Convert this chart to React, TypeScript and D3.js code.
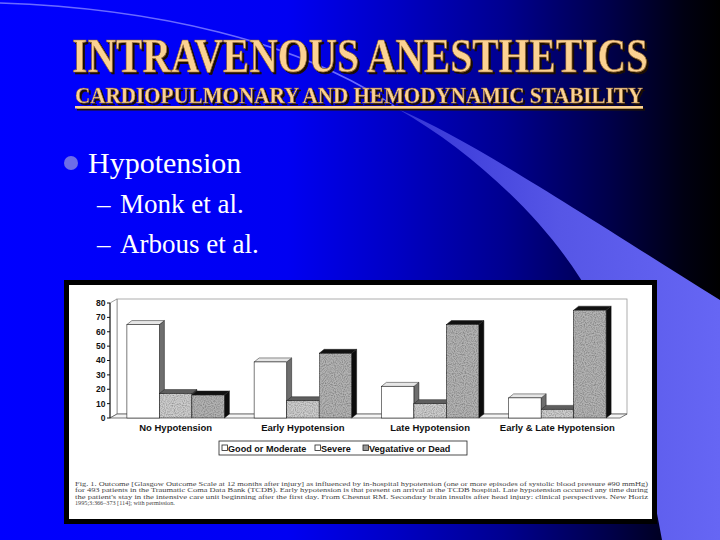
import React from "react";
import * as d3 from "d3";

const categories = ["No Hypotension", "Early Hypotension", "Late Hypotension", "Early & Late Hypotension"];
const seriesNames = ["Good or Moderate", "Severe", "Vegatative or Dead"];
const goodValues = [65, 39, 22, 14];
const severeValues = [17, 12, 10, 6];
const vegValues = [16, 45, 65, 75];
const yTicks = [0, 10, 20, 30, 40, 50, 60, 70, 80];
const captionLines = [
  "Fig. 1. Outcome [Glasgow Outcome Scale at 12 months after injury] as influenced by in-hospital hypotension (one or more episodes of systolic blood pressure #90 mmHg)",
  "for 493 patients in the Traumatic Coma Data Bank (TCDB). Early hypotension is that present on arrival at the TCDB hospital. Late hypotension occurred any time during",
  "the patient's stay in the intensive care unit beginning after the first day. From Chesnut RM. Secondary brain insults after head injury: clinical perspectives. New Horiz",
  "1995;3:366–373 [114]; with permission.",
];

const seriesValues = [goodValues, severeValues, vegValues];
const frontColors = ["#ffffff", "#cdcdcd", "#b3b3b3"];
const topColors = ["#e6e6e6", "#5e5e5e", "#111111"];
const sideColors = ["#6e6e6e", "#3c3c3c", "#0c0c0c"];

export default function App() {
  const x0 = d3.scaleBand<string>().domain(categories).range([112, 621]).paddingInner(0.234).paddingOuter(0.117);
  const x1 = d3.scaleBand<string>().domain(seriesNames).range([0, x0.bandwidth()]).padding(0);
  const y = d3.scaleLinear().domain([0, 80]).range([418, 303]);
  const dx = 5, dy = 4;
  const base = y(0);
  const sans = "'Liberation Sans', Arial, sans-serif";
  const serif = "'Liberation Serif', 'Times New Roman', serif";

  const bars: React.ReactNode[] = [];
  categories.forEach((c, i) => {
    seriesNames.forEach((s, j) => {
      const v = seriesValues[j][i];
      const bx = (x0(c) as number) + (x1(s) as number);
      const w = x1.bandwidth();
      const yt = y(v);
      bars.push(
        <g key={c + s}>
          <polygon
            points={`${bx + w},${yt} ${bx + w + dx},${yt - dy} ${bx + w + dx},${base - dy} ${bx + w},${base}`}
            fill={sideColors[j]} stroke="#111" strokeWidth={0.5} />
          <polygon
            points={`${bx},${yt} ${bx + dx},${yt - dy} ${bx + w + dx},${yt - dy} ${bx + w},${yt}`}
            fill={topColors[j]} stroke="#222" strokeWidth={0.5} />
          <rect x={bx} y={yt} width={w} height={base - yt} fill={frontColors[j]}
            stroke="#222" strokeWidth={0.6} filter={j > 0 ? "url(#grain)" : undefined} />
        </g>
      );
    });
  });

  const legendItems = [
    { x: 222, tx: 228, label: seriesNames[0], fill: "#fff" },
    { x: 315, tx: 321, label: seriesNames[1], fill: "#fff" },
    { x: 363, tx: 369, label: seriesNames[2], fill: "#999" },
  ];

  return (
    <svg width={720} height={540} style={{ position: "fixed", left: 0, top: 0, display: "block" }}>
      <defs>
        <linearGradient id="bg" x1="0" x2="1" y1="0" y2="0">
          <stop offset="0" stopColor="#0000ff" />
          <stop offset="0.4" stopColor="#0000f2" />
          <stop offset="0.55" stopColor="#0000c4" />
          <stop offset="0.7" stopColor="#000090" />
          <stop offset="0.85" stopColor="#000048" />
          <stop offset="0.95" stopColor="#000012" />
          <stop offset="1" stopColor="#000000" />
        </linearGradient>
        <linearGradient id="swoosh" gradientUnits="userSpaceOnUse" x1="398" y1="0" x2="720" y2="0">
          <stop offset="0" stopColor="#3434d6" />
          <stop offset="0.5" stopColor="#5656e6" />
          <stop offset="1" stopColor="#6666f4" />
        </linearGradient>
        <filter id="shadow" x="-10%" y="-50%" width="120%" height="200%">
          <feDropShadow dx={2} dy={2} stdDeviation={0.3} floodColor="#1e0e00" floodOpacity={1} />
        </filter>
        <filter id="grain" x="0" y="0" width="100%" height="100%">
          <feTurbulence type="fractalNoise" baseFrequency="0.9" numOctaves={1} seed={3} result="noise" />
          <feColorMatrix in="noise" type="matrix"
            values="0 0 0 0 0  0 0 0 0 0  0 0 0 0 0  0 0 0 -1.2 0.75" result="dots" />
          <feComposite in="dots" in2="SourceGraphic" operator="in" result="dotsIn" />
          <feMerge>
            <feMergeNode in="SourceGraphic" />
            <feMergeNode in="dotsIn" />
          </feMerge>
        </filter>
      </defs>

      <rect x={0} y={0} width={720} height={540} fill="url(#bg)" />
      <path d="M0,3 C150,8 300,40 398,109" fill="none" stroke="#6a6aff" strokeWidth={1.6} />
      <path d="M398,109 C470,140 560,200 720,300 L720,540 L662,540 C640,420 615,330 580,278 C540,215 470,150 398,109 Z"
        fill="url(#swoosh)" />

      {/* Title */}
      <g fontFamily={serif} fontWeight="bold" filter="url(#shadow)">
        <text transform="translate(72,72) scale(1,1.33)" x={0} y={0} fontSize={36} fill="#fcd292" stroke="#8a6030" strokeWidth={0.5}
          textLength={576} lengthAdjust="spacingAndGlyphs">INTRAVENOUS ANESTHETICS</text>
        <text transform="translate(75,103) scale(1,1.2)" x={0} y={0} fontSize={18.5} fill="#fcd292" stroke="#8a6030" strokeWidth={0.35}
          textLength={568} lengthAdjust="spacingAndGlyphs">CARDIOPULMONARY AND HEMODYNAMIC STABILITY</text>
        <rect x={75} y={106} width={568} height={2.5} fill="#fcd292" />
      </g>

      {/* Bullets */}
      <circle cx={71} cy={163} r={7} fill="#6d6de8" />
      <text x={88} y={173} fontFamily={serif} fontSize={30} fill="#ffffff">Hypotension</text>
      <text x={97} y={213} fontFamily={serif} fontSize={27} fill="#ffffff">–<tspan x={120}>Monk et al.</tspan></text>
      <text x={97} y={253} fontFamily={serif} fontSize={27} fill="#ffffff">–<tspan x={120}>Arbous et al.</tspan></text>

      {/* Figure box */}
      <rect x={64} y={280} width={593} height={244} fill="#000" />
      <rect x={69} y={285} width={583} height={234} fill="#ffffff" />

      {/* 3D frame */}
      <rect x={117} y={y(80) - 4} width={627 - 117} height={base - y(80)} fill="#fff" stroke="#9a9a9a" strokeWidth={0.8} />
      <polygon points={`110,${y(80)} 117,${y(80) - 4} 117,${base - 4} 110,${base}`} fill="#fff" stroke="#888" strokeWidth={0.8} />
      <polygon points={`110,${base} 117,${base - 4} 627,${base - 4} 620,${base}`} fill="#f4f4f4" stroke="#555" strokeWidth={0.8} />

      {bars}

      {/* Y axis */}
      <line x1={110} x2={110} y1={y(80)} y2={base} stroke="#111" strokeWidth={1} />
      {yTicks.map((t) => (
        <g key={t}>
          <line x1={107} x2={110} y1={y(t)} y2={y(t)} stroke="#111" strokeWidth={1} />
          <text x={105.5} y={y(t)} dy="0.35em" textAnchor="end" fontFamily={sans} fontWeight="bold" fontSize={8.5} fill="#111">{t}</text>
        </g>
      ))}

      {/* Category labels */}
      {categories.map((c) => (
        <text key={c} x={(x0(c) as number) + x0.bandwidth() / 2} y={431} textAnchor="middle"
          fontFamily={sans} fontWeight="bold" fontSize={9.5} fill="#111">{c}</text>
      ))}

      {/* Legend */}
      <rect x={219} y={441} width={248} height={14} fill="#fff" stroke="#222" strokeWidth={0.8} />
      {legendItems.map((d) => (
        <g key={d.label}>
          <rect x={d.x} y={445} width={5.5} height={5.5} fill={d.fill} stroke="#222" strokeWidth={0.8} />
          <text x={d.tx} y={451.5} fontFamily={sans} fontWeight="bold" fontSize={9.1} fill="#111">{d.label}</text>
        </g>
      ))}

      {/* Caption */}
      {captionLines.map((line, i) => (
        <text key={i} x={75} y={485.5 + i * 6.6} fontFamily={serif} fontSize={6.2} fill="#444"
          textLength={i < 3 ? 573 : undefined} lengthAdjust={i < 3 ? "spacingAndGlyphs" : undefined}>{line}</text>
      ))}
    </svg>
  );
}
